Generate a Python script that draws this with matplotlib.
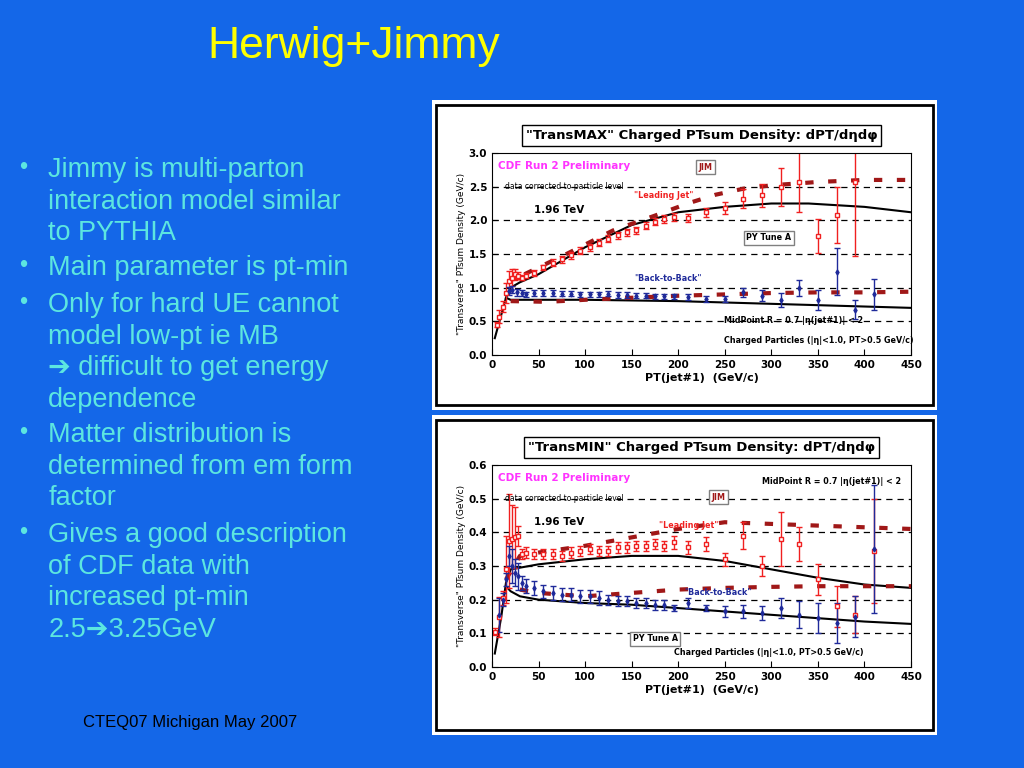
import matplotlib.pyplot as plt
from matplotlib.patches import Rectangle

# ---- TransMAX data ----
max_lj_x = [5, 8, 12, 15, 18, 22, 25, 28, 32, 37, 45, 55, 65, 75, 85, 95, 105, 115, 125, 135, 145, 155,
            165, 175, 185, 195, 210, 230, 250, 270, 290, 310, 330, 350, 370, 390]
max_lj_y = [0.45, 0.57, 0.72, 0.92, 1.1, 1.15, 1.2, 1.18, 1.15, 1.18, 1.22, 1.3, 1.37, 1.42, 1.48, 1.55,
            1.6, 1.67, 1.73, 1.78, 1.82, 1.85, 1.92, 1.98, 2.02, 2.05, 2.03, 2.12, 2.18, 2.32, 2.37, 2.5,
            2.57, 1.77, 2.08, 2.57]
max_lj_e = [0.04, 0.1, 0.08, 0.15, 0.15, 0.12, 0.08, 0.05, 0.04, 0.04, 0.04, 0.04, 0.05, 0.05, 0.05, 0.05,
            0.05, 0.05, 0.05, 0.05, 0.05, 0.05, 0.05, 0.05, 0.06, 0.06, 0.06, 0.07, 0.09, 0.14, 0.17, 0.28,
            0.45, 0.25, 0.42, 1.1]
max_bb_x = [18, 22, 27, 32, 37, 45, 55, 65, 75, 85, 95, 105, 115, 125, 135, 145, 155, 165, 175, 185, 195,
            210, 230, 250, 270, 290, 310, 330, 350, 370, 390, 410]
max_bb_y = [0.95, 0.97, 0.93, 0.92, 0.9, 0.92, 0.92, 0.92, 0.91, 0.91, 0.9, 0.9, 0.9, 0.91, 0.89, 0.89,
            0.88, 0.88, 0.87, 0.87, 0.87, 0.86, 0.83, 0.83, 0.93, 0.88, 0.82, 1.0, 0.82, 1.24, 0.67, 0.9]
max_bb_e = [0.06, 0.05, 0.05, 0.04, 0.04, 0.04, 0.04, 0.04, 0.04, 0.04, 0.04, 0.04, 0.04, 0.04, 0.04, 0.04,
            0.04, 0.04, 0.04, 0.04, 0.04, 0.04, 0.05, 0.05, 0.07, 0.08, 0.1, 0.12, 0.15, 0.35, 0.14, 0.23]
max_hw_lj_x = [35, 80, 130, 175, 210, 240, 270, 300, 350, 400, 450]
max_hw_lj_y = [1.2, 1.5, 1.85, 2.07, 2.25, 2.38, 2.47, 2.52, 2.57, 2.6, 2.6]
max_hw_bb_x = [20, 60, 100, 150, 200, 250, 300, 350, 400, 450]
max_hw_bb_y = [0.8, 0.79, 0.82, 0.85, 0.88, 0.9, 0.92, 0.93, 0.93, 0.94]
max_py_lj_x = [3, 10, 15, 20, 30, 50, 100, 150, 200, 250, 300, 340, 400, 450]
max_py_lj_y = [0.25, 0.6, 0.85, 1.0, 1.08, 1.2, 1.6, 1.93, 2.12, 2.2, 2.25, 2.25, 2.2, 2.12]
max_py_bb_x = [15, 20, 50, 100, 200, 300, 400, 450]
max_py_bb_y = [0.85, 0.82, 0.82, 0.82, 0.8, 0.76, 0.72, 0.7]

# ---- TransMIN data ----
min_lj_x = [3, 8, 12, 15, 18, 22, 25, 28, 32, 37, 45, 55, 65, 75, 85, 95, 105, 115, 125, 135, 145, 155,
            165, 175, 185, 195, 210, 230, 250, 270, 290, 310, 330, 350, 370, 390, 410]
min_lj_y = [0.105, 0.148, 0.205, 0.29, 0.375, 0.38, 0.385, 0.39, 0.335, 0.34, 0.335, 0.335, 0.335, 0.33,
            0.34, 0.345, 0.35, 0.345, 0.345, 0.355, 0.355, 0.36, 0.36, 0.365, 0.36, 0.37, 0.355, 0.365,
            0.32, 0.39, 0.30, 0.38, 0.365, 0.26, 0.18, 0.155, 0.345]
min_lj_e = [0.01, 0.06, 0.02, 0.1, 0.14, 0.1, 0.09, 0.03, 0.015, 0.015, 0.015, 0.015, 0.015, 0.015, 0.015,
            0.015, 0.015, 0.015, 0.015, 0.015, 0.015, 0.015, 0.015, 0.015, 0.015, 0.02, 0.02, 0.02, 0.02,
            0.04, 0.03, 0.08, 0.05, 0.045, 0.06, 0.055, 0.155]
min_bb_x = [8, 12, 15, 18, 22, 25, 28, 32, 37, 45, 55, 65, 75, 85, 95, 105, 115, 125, 135, 145, 155, 165,
            175, 185, 195, 210, 230, 250, 270, 290, 310, 330, 350, 370, 390, 410]
min_bb_y = [0.155, 0.2, 0.26, 0.33, 0.3, 0.28, 0.27, 0.25, 0.24, 0.235, 0.225, 0.22, 0.215, 0.215, 0.21,
            0.21, 0.205, 0.2, 0.195, 0.195, 0.19, 0.19, 0.185, 0.185, 0.175, 0.19, 0.175, 0.165, 0.165,
            0.16, 0.175, 0.155, 0.145, 0.13, 0.15, 0.35]
min_bb_e = [0.05, 0.02, 0.02, 0.03, 0.05, 0.04, 0.04, 0.02, 0.02, 0.02, 0.02, 0.02, 0.02, 0.02, 0.02, 0.02,
            0.02, 0.015, 0.015, 0.015, 0.015, 0.015, 0.015, 0.015, 0.01, 0.015, 0.01, 0.015, 0.02, 0.02,
            0.03, 0.04, 0.045, 0.06, 0.06, 0.19]
min_hw_lj_x = [15, 30, 50, 100, 150, 200, 250, 300, 350, 400, 450]
min_hw_lj_y = [0.26, 0.33, 0.34, 0.36, 0.385, 0.41, 0.43, 0.425, 0.42, 0.415, 0.41]
min_hw_bb_x = [30, 50, 100, 150, 200, 250, 300, 350, 400, 450]
min_hw_bb_y = [0.23, 0.22, 0.21, 0.22, 0.23, 0.235, 0.238, 0.24, 0.24, 0.24]
min_py_lj_x = [3, 10, 15, 20, 30, 50, 100, 150, 200, 250, 300, 350, 400, 450]
min_py_lj_y = [0.04, 0.15, 0.25, 0.29, 0.295, 0.305, 0.32, 0.33, 0.33, 0.315, 0.29, 0.265, 0.245, 0.235]
min_py_bb_x = [15, 20, 30, 50, 100, 150, 200, 250, 300, 350, 400, 450]
min_py_bb_y = [0.24, 0.225, 0.21, 0.2, 0.19, 0.185, 0.175, 0.165, 0.155, 0.145, 0.135, 0.128]

bullets = [
    "Jimmy is multi-parton\ninteraction model similar\nto PYTHIA",
    "Main parameter is pt-min",
    "Only for hard UE cannot\nmodel low-pt ie MB\n\u2794 difficult to get energy\ndependence",
    "Matter distribution is\ndetermined from em form\nfactor",
    "Gives a good description\nof CDF data with\nincreased pt-min\n2.5\u27943.25GeV",
]
bullet_y_px = [157, 255, 292, 422, 522]

BG = '#1467E8'
RED = '#F02020'
BLUE = '#1F2A9A'
HW = '#A01818'
FAM = ['Liberation Sans', 'DejaVu Sans']

fig = plt.figure(figsize=(10.24, 7.68), dpi=100)
fig.patch.set_facecolor(BG)
fig.text(0.345, 0.94, "Herwig+Jimmy", color='#FFFF00', fontsize=32, ha='center', va='center',
         family=FAM)
for b, ypx in zip(bullets, bullet_y_px):
    fig.text(0.019, 1 - ypx / 768, "\u2022", color='#5CE6E0', fontsize=17, va='top', family=FAM)
    fig.text(0.047, 1 - ypx / 768, b, color='#5CE6E0', fontsize=19.5, va='top', linespacing=1.28,
             family=FAM)
fig.text(0.186, 0.053, "CTEQ07 Michigan May 2007", color='black', fontsize=12, ha='center',
         family=FAM)


def panel(bottom_px, top_px, ax_rect, title, ymax, data, ann):
    fig.add_artist(Rectangle((432 / 1024, 1 - bottom_px / 768), 505 / 1024, (bottom_px - top_px) / 768,
                             transform=fig.transFigure, facecolor='white', edgecolor='none',
                             zorder=-5))
    fig.add_artist(Rectangle((436 / 1024, 1 - (bottom_px - 5) / 768), 497 / 1024,
                             (bottom_px - top_px - 10) / 768, transform=fig.transFigure,
                             facecolor='none', edgecolor='black', lw=2, zorder=-4))
    ax = fig.add_axes(ax_rect)
    ax.set_facecolor('none')
    ax.set_xlim(0, 450)
    ax.set_ylim(0, ymax)
    ax.set_xticks(range(0, 451, 50))
    step = ymax / 6
    ax.set_yticks([i * step for i in range(7)])
    ax.set_yticklabels([f"{i * step:.1f}" for i in range(7)])
    for i in range(1, 6):
        ax.axhline(i * step, color='black', ls=(0, (5, 4)), lw=0.9)
    (ljx, ljy, lje, bbx, bby, bbe, hlx, hly, hbx, hby, plx, ply, pbx, pby) = data
    ax.plot(plx, ply, color='black', lw=1.5)
    ax.plot(pbx, pby, color='black', lw=1.5)
    ax.plot(hlx, hly, color=HW, lw=3, ls=(0, (2, 3.5)))
    ax.plot(hbx, hby, color=HW, lw=3, ls=(0, (2, 3.5)))
    ax.errorbar(ljx, ljy, yerr=lje, fmt='s', ms=3.5, mfc='white', mec=RED, color=RED, lw=1,
                capsize=2.5)
    ax.errorbar(bbx, bby, yerr=bbe, fmt='d', ms=2.5, color=BLUE, lw=1, capsize=2.5)
    ax.tick_params(labelsize=7.5, direction='in', length=4)
    for lab in ax.get_xticklabels() + ax.get_yticklabels():
        lab.set_fontweight('bold')
    ax.set_xlabel("PT(jet#1)  (GeV/c)", fontsize=8, fontweight='bold', labelpad=2)
    ax.set_ylabel('"Transverse" PTsum Density (GeV/c)', fontsize=6.5, labelpad=2)
    ax.set_title(title, fontsize=9.5, fontweight='bold', pad=10,
                 bbox=dict(facecolor='white', edgecolor='black', boxstyle='square,pad=0.3'))
    ax.text(0.015, 0.96, "CDF Run 2 Preliminary", transform=ax.transAxes, color='#FF33FF',
            fontsize=7.5, fontweight='bold', va='top')
    ax.text(0.03, 0.855, "data corrected to particle level", transform=ax.transAxes, fontsize=5.5,
            va='top')
    ax.text(0.1, 0.72, "1.96 TeV", transform=ax.transAxes, fontsize=7.5, fontweight='bold', va='center')
    for txt, x, yy, c, kw in ann:
        ax.text(x, yy, txt, transform=ax.transAxes, color=c, fontsize=5.8, fontweight='bold',
                ha='center', va='center', **kw)
    return ax


boxkw = dict(bbox=dict(facecolor='white', edgecolor='gray', boxstyle='square,pad=0.3'))
panel(410, 100, [492 / 1024, 1 - 355 / 768, 419 / 1024, 202 / 768],
      '"TransMAX" Charged PTsum Density: dPT/d\u03b7d\u03c6', 3.0,
      (max_lj_x, max_lj_y, max_lj_e, max_bb_x, max_bb_y, max_bb_e, max_hw_lj_x, max_hw_lj_y,
       max_hw_bb_x, max_hw_bb_y, max_py_lj_x, max_py_lj_y, max_py_bb_x, max_py_bb_y),
      [("JIM", 0.51, 0.93, '#A01818', boxkw), ('"Leading Jet"', 0.41, 0.79, RED, {}),
       ("PY Tune A", 0.66, 0.58, 'black', boxkw), ('"Back-to-Back"', 0.42, 0.38, BLUE, {}),
       ("MidPoint R = 0.7 |\u03b7(jet#1)| < 2", 0.72, 0.17, 'black', {}),
       ("Charged Particles (|\u03b7|<1.0, PT>0.5 GeV/c)", 0.78, 0.07, 'black', {})])
panel(735, 415, [492 / 1024, 1 - 667 / 768, 419 / 1024, 202 / 768],
      '"TransMIN" Charged PTsum Density: dPT/d\u03b7d\u03c6', 0.6,
      (min_lj_x, min_lj_y, min_lj_e, min_bb_x, min_bb_y, min_bb_e, min_hw_lj_x, min_hw_lj_y,
       min_hw_bb_x, min_hw_bb_y, min_py_lj_x, min_py_lj_y, min_py_bb_x, min_py_bb_y),
      [("JIM", 0.54, 0.84, '#A01818', boxkw), ('"Leading Jet"', 0.47, 0.7, RED, {}),
       ("PY Tune A", 0.39, 0.14, 'black', boxkw), ('"Back-to-Back"', 0.54, 0.37, BLUE, {}),
       ("MidPoint R = 0.7 |\u03b7(jet#1)| < 2", 0.81, 0.92, 'black', {}),
       ("Charged Particles (|\u03b7|<1.0, PT>0.5 GeV/c)", 0.66, 0.07, 'black', {})])

fig.savefig("out.png", dpi=100, facecolor=fig.get_facecolor())
